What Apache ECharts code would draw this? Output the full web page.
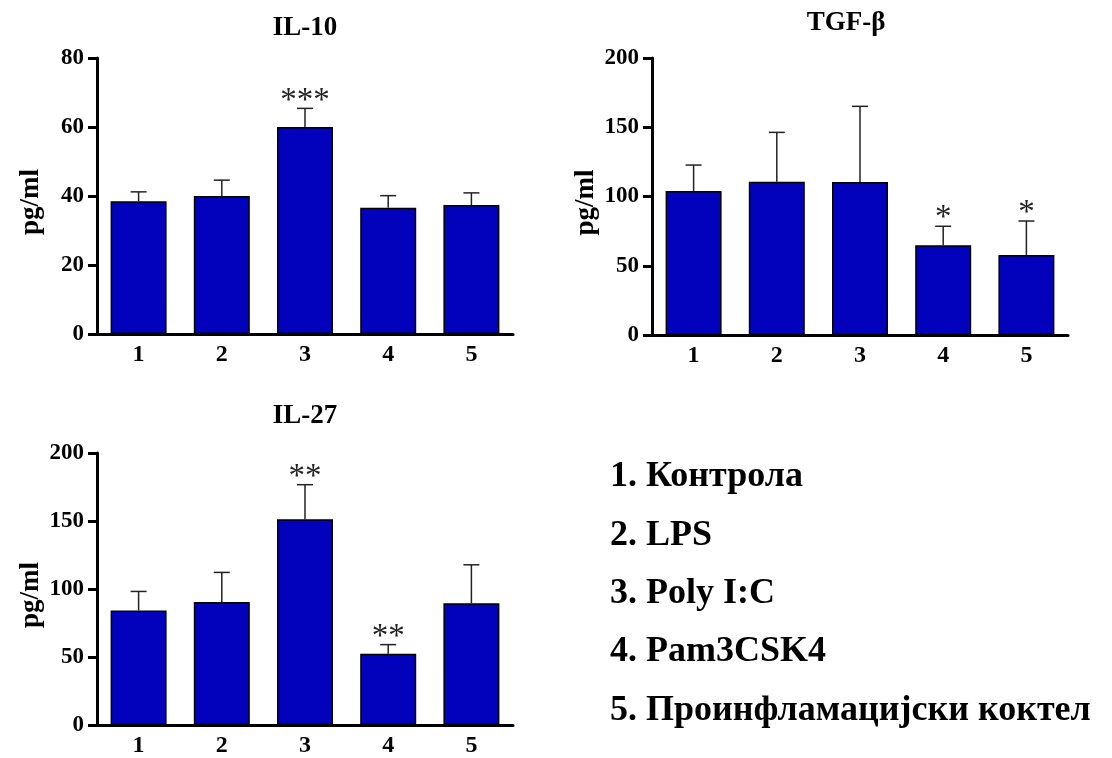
<!DOCTYPE html>
<html>
<head>
<meta charset="utf-8">
<script src="https://cdn.jsdelivr.net/npm/echarts@6/dist/echarts.min.js"></script>
<style>
html,body{margin:0;padding:0;background:#fff;}
#chart{width:1112px;height:758px;}
</style>
</head>
<body>
<div id="chart"></div>
<script>
// ---- data ----
var categories = ['1', '2', '3', '4', '5'];
var legendNames = ['Контрола', 'LPS', 'Poly I:C', 'Pam3CSK4', 'Проинфламацијски коктел'];

var il10Title = 'IL-10';
var il10Mean = [38.5, 40.0, 60.0, 36.6, 37.4];
var il10Err  = [2.7, 4.6, 5.4, 3.5, 3.5];
var il10Sig  = ['', '', '***', '', ''];

var tgfTitle = 'TGF-β';
var tgfMean = [104.0, 110.7, 110.5, 64.8, 57.8];
var tgfErr  = [18.7, 35.6, 54.6, 13.7, 24.5];
var tgfSig  = ['', '', '', '*', '*'];

var il27Title = 'IL-27';
var il27Mean = [84.2, 90.5, 151.3, 52.3, 89.5];
var il27Err  = [14.0, 21.7, 25.4, 6.8, 28.3];
var il27Sig  = ['', '', '**', '**', ''];

var yTicksIL10 = {min: 0, max: 80, interval: 20};
var yTicksTGF  = {min: 0, max: 200, interval: 50};
var yTicksIL27 = {min: 0, max: 200, interval: 50};
var yUnit = 'pg/ml';

// ---- styling ----
var FONT = "'Liberation Serif','Times New Roman',serif";
var BAR_COLOR = '#0202BC';

function xAxis(gi) {
  return {
    type: 'category', gridIndex: gi, data: categories,
    axisLine: {lineStyle: {color: '#000', width: 3}},
    axisTick: {alignWithLabel: true, length: 8, lineStyle: {color: '#000', width: 3}},
    axisLabel: {color: '#000', fontFamily: FONT, fontWeight: 'bold', fontSize: 24, margin: 9},
    splitLine: {show: false}
  };
}
function yAxis(gi, t) {
  return {
    type: 'value', gridIndex: gi, min: t.min, max: t.max, interval: t.interval,
    name: yUnit, nameLocation: 'middle', nameGap: 52,
    nameTextStyle: {color: '#000', fontFamily: FONT, fontWeight: 'bold', fontSize: 27, padding: [0, 12, 0, 0]},
    axisLine: {show: true, lineStyle: {color: '#000', width: 3}},
    axisTick: {show: true, length: 9, lineStyle: {color: '#000', width: 3}},
    axisLabel: {color: '#000', fontFamily: FONT, fontWeight: 'bold', fontSize: 23, margin: 13},
    splitLine: {show: false}
  };
}
function barSeries(gi, mean) {
  return {
    type: 'bar', xAxisIndex: gi, yAxisIndex: gi, data: mean, barWidth: 56,
    itemStyle: {color: BAR_COLOR, borderColor: '#000', borderWidth: 1.5},
    z: 2, silent: true
  };
}
function errSeries(gi, mean, err, sig) {
  var d = mean.map(function (m, i) { return [i, m, err[i]]; });
  return {
    type: 'custom', xAxisIndex: gi, yAxisIndex: gi, data: d, z: 3, silent: true,
    renderItem: function (params, api) {
      var i = api.value(0), m = api.value(1), e = api.value(2);
      var p0 = api.coord([i, m]);
      var p1 = api.coord([i, m + e]);
      var cap = 8;
      var children = [
        {type: 'line', shape: {x1: p0[0], y1: p0[1], x2: p1[0], y2: p1[1]},
         style: {stroke: '#222', lineWidth: 1.5}},
        {type: 'line', shape: {x1: p1[0] - cap, y1: p1[1], x2: p1[0] + cap, y2: p1[1]},
         style: {stroke: '#222', lineWidth: 1.5}}
      ];
      var s = sig[params.dataIndex];
      if (s) {
        children.push({type: 'text', x: p1[0], y: p1[1] + 9,
          style: {text: s, fill: '#222', font: '33px ' + FONT, align: 'center', verticalAlign: 'bottom'}});
      }
      return {type: 'group', children: children};
    }
  };
}

var graphics = [
  {type: 'text', x: 305, y: 28, style: {text: il10Title, fill: '#000', font: 'bold 27px ' + FONT, align: 'center', verticalAlign: 'middle'}},
  {type: 'text', x: 846, y: 23, style: {text: tgfTitle, fill: '#000', font: 'bold 27px ' + FONT, align: 'center', verticalAlign: 'middle'}},
  {type: 'text', x: 305, y: 416, style: {text: il27Title, fill: '#000', font: 'bold 27px ' + FONT, align: 'center', verticalAlign: 'middle'}}
];
var legendY = [477, 536, 594, 652, 711];
legendNames.forEach(function (n, i) {
  graphics.push({type: 'text', x: 610, y: legendY[i],
    style: {text: categories[i] + '. ' + n, fill: '#000', font: 'bold 36px ' + FONT, align: 'left', verticalAlign: 'middle'}});
});

var option = {
  backgroundColor: '#fff',
  animation: false,
  grid: [
    {left: 97, right: 599, top: 58, bottom: 424},
    {left: 652, right: 44, top: 58, bottom: 423},
    {left: 97, right: 599, top: 453, bottom: 29}
  ],
  xAxis: [xAxis(0), xAxis(1), xAxis(2)],
  yAxis: [yAxis(0, yTicksIL10), yAxis(1, yTicksTGF), yAxis(2, yTicksIL27)],
  series: [
    barSeries(0, il10Mean), errSeries(0, il10Mean, il10Err, il10Sig),
    barSeries(1, tgfMean), errSeries(1, tgfMean, tgfErr, tgfSig),
    barSeries(2, il27Mean), errSeries(2, il27Mean, il27Err, il27Sig)
  ],
  graphic: graphics
};
var chart = echarts.init(document.getElementById('chart'), null, {renderer: 'canvas'});
chart.setOption(option);
</script>
</body>
</html>
